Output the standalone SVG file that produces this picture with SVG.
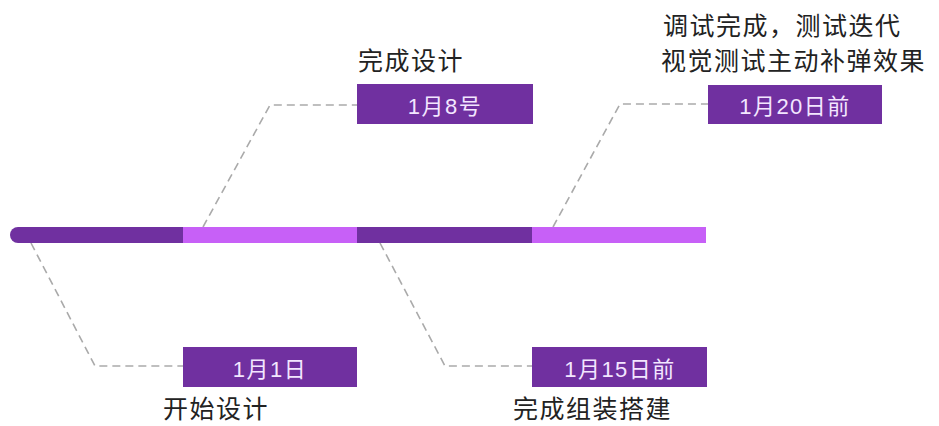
<svg xmlns="http://www.w3.org/2000/svg" width="939" height="426" viewBox="0 0 939 426">
<style>
.dark{fill:#7030A0}
.light{fill:#C760F7}
.box{fill:#7030A0}
.conn{fill:none;stroke:#AAAAAA;stroke-width:1.6;stroke-dasharray:8 5}
.lbl{font-family:"Liberation Sans","Noto Sans CJK SC",sans-serif;font-size:22px;fill:#F3E6FF;text-anchor:middle;letter-spacing:1.5px}
.cap{font-family:"Noto Sans CJK SC","Noto Sans CJK TC",sans-serif;font-size:25px;fill:#222222;letter-spacing:1.5px}
</style>
<rect width="939" height="426" fill="#FFFFFF"/>
<g id="connectors">
<polyline class="conn" points="203,227 270,105 357,105"/>
<polyline class="conn" points="553,227 620,104 708,104"/>
<polyline class="conn" points="31,243 95,366 183,366"/>
<polyline class="conn" points="380,243 445,366 532,366"/>
</g>
<g id="timeline">
<path class="dark" d="M18,227 H183 V243 H18 A8,8 0 0 1 18,227 Z"/>
<rect class="light" x="183" y="227" width="175" height="16"/>
<rect class="dark" x="357" y="227" width="175" height="16"/>
<rect class="light" x="532" y="227" width="174" height="16"/>
</g>
<g id="node-jan1">
<rect class="box" x="183" y="347" width="174" height="40"/>
<text class="lbl" x="270" y="377">1月1日</text>
<text class="cap" x="163" y="418">开始设计</text>
</g>
<g id="node-jan8">
<rect class="box" x="357" y="84" width="176" height="40"/>
<text class="lbl" x="445" y="114">1月8号</text>
<text class="cap" x="358" y="70">完成设计</text>
</g>
<g id="node-jan15">
<rect class="box" x="532" y="347" width="175" height="40"/>
<text class="lbl" x="620" y="377">1月15日前</text>
<text class="cap" x="513" y="418">完成组装搭建</text>
</g>
<g id="node-jan20">
<rect class="box" x="708" y="85" width="174" height="39"/>
<text class="lbl" x="795" y="114">1月20日前</text>
<text class="cap" x="663" y="35">调试完成，测试迭代</text>
<text class="cap" x="661" y="70">视觉测试主动补弹效果</text>
</g>
</svg>
